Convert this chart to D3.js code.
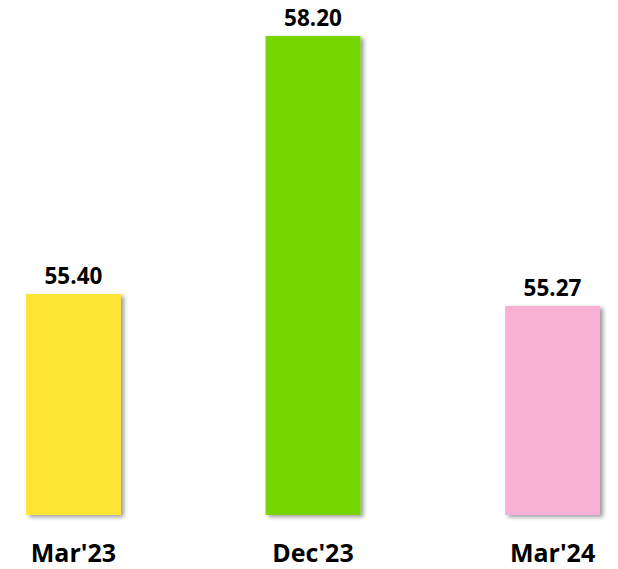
<!DOCTYPE html>
<html>
<head>
<meta charset="utf-8">
<script src="https://cdn.jsdelivr.net/npm/d3@7"></script>
<style>
  body { margin: 0; background: #fff; }
  text { font-family: "Open Sans", sans-serif; font-weight: 700; fill: #000; }
</style>
</head>
<body>
<div id="chart"></div>
<script>
const categories = ["Mar'23", "Dec'23", "Mar'24"];
const values = [55.40, 58.20, 55.27];
const labels = ["55.40", "58.20", "55.27"];
const colors = ["#FFE534", "#76D600", "#F8B1D4"];

const width = 618, height = 569;

const svg = d3.select("#chart")
  .append("svg")
  .attr("width", width)
  .attr("height", height);

// soft shadow on right/bottom of the bars
const filter = svg.append("defs").append("filter")
  .attr("id", "shadow")
  .attr("x", "-10%").attr("y", "-10%")
  .attr("width", "130%").attr("height", "130%");
filter.append("feDropShadow")
  .attr("dx", 3).attr("dy", 2)
  .attr("stdDeviation", 2)
  .attr("flood-color", "#000")
  .attr("flood-opacity", 0.4);

const x = d3.scaleBand()
  .domain(categories)
  .range([26, 600])
  .paddingInner(0.604)
  .paddingOuter(0);

const y = d3.scaleLinear()
  .domain([53, 58.2])
  .range([515, 36]);

const data = categories.map((c, i) => ({cat: c, value: values[i], label: labels[i], color: colors[i]}));

svg.append("g")
  .selectAll("rect")
  .data(data)
  .join("rect")
    .attr("x", d => x(d.cat))
    .attr("y", d => y(d.value))
    .attr("width", x.bandwidth())
    .attr("height", d => y(53) - y(d.value))
    .attr("fill", d => d.color)
    .attr("filter", "url(#shadow)");

// value labels
svg.append("g")
  .selectAll("text")
  .data(data)
  .join("text")
    .attr("x", d => x(d.cat) + x.bandwidth() / 2)
    .attr("y", d => y(d.value) - 10)
    .attr("text-anchor", "middle")
    .style("font-size", "22.5px")
    .text(d => d.label);

// category axis
const xAxis = svg.append("g")
  .attr("transform", `translate(0, 515)`)
  .call(d3.axisBottom(x).tickSize(0).tickPadding(47));
xAxis.select(".domain").remove();
xAxis.selectAll("text")
  .attr("dy", 0)
  .style("font-size", "25px")
  .style("font-family", "'Open Sans', sans-serif")
  .style("font-weight", 700)
  .attr("fill", "#000");
</script>
</body>
</html>
